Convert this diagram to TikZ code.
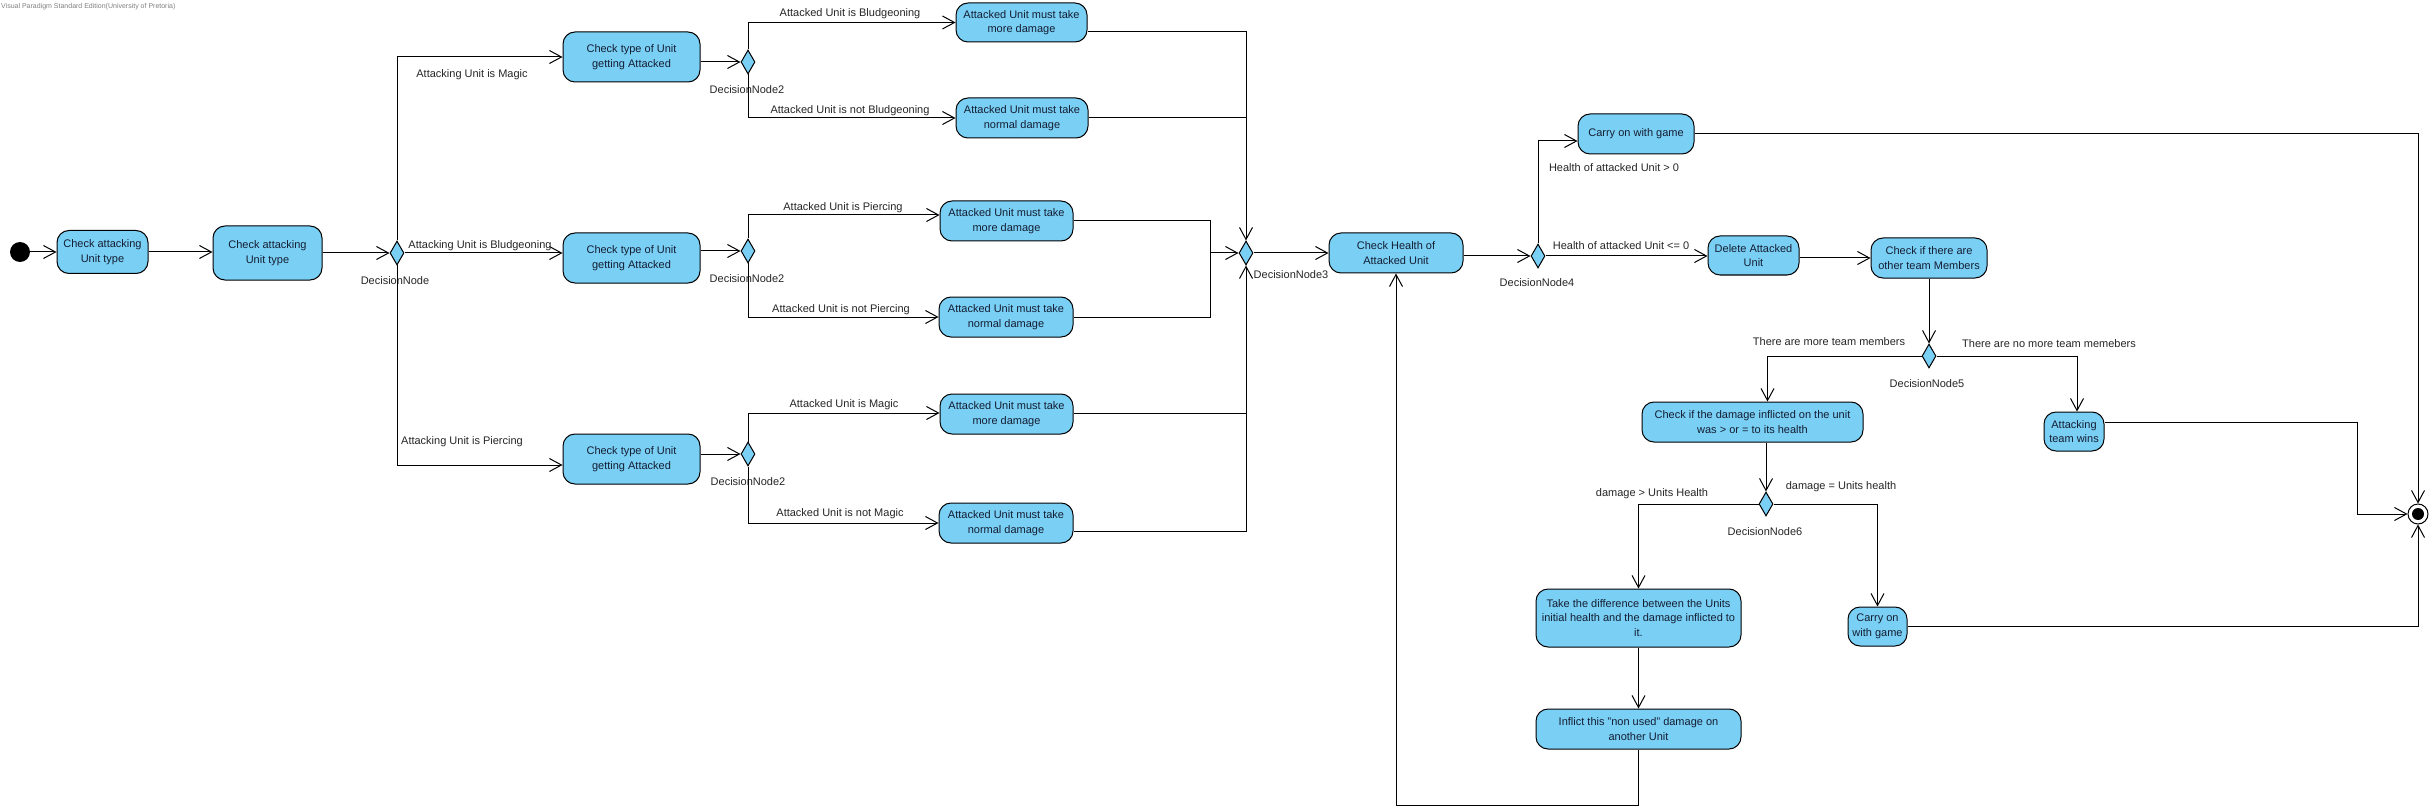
\documentclass[tikz,border=0pt]{standalone}
\usepackage{fontspec}
\setmainfont{Liberation Sans}
\usetikzlibrary{arrows.meta,shapes.geometric,calc}
\definecolor{actfill}{RGB}{122,207,245}
\definecolor{acttext}{RGB}{20,30,50}
\begin{document}
\begin{tikzpicture}[x=1pt,y=-1pt,
  act/.style={draw=black, fill=actfill, rounded corners=12pt, line width=1pt, align=center,
    font=\fontsize{11}{14.5}\selectfont, text=acttext, inner sep=0pt},
  dec/.style={draw=black, fill=actfill, diamond, inner sep=0pt, minimum width=14pt,
    minimum height=24pt, line width=1pt},
  lbl/.style={font=\fontsize{11}{14}\selectfont, inner sep=0pt, text=black!85},
  flow/.style={line width=1pt, -{Straight Barb[length=12pt,width=13pt]}},
  plain/.style={line width=1pt},
]
\useasboundingbox[fill=white] (0,0) rectangle (2432,810);
\node[anchor=north west, font=\fontsize{7}{8}\selectfont, text=gray, inner sep=0pt] (wm) at (1,3) {Visual Paradigm Standard Edition(University of Pretoria)};

% start
\node[circle, fill=black, minimum size=20pt, inner sep=0pt] (init) at (20,252) {};
\node[act, minimum width=91pt, minimum height=43pt] (A1) at (102.5,252) {Check attacking\\Unit type};
\node[act, minimum width=109pt, minimum height=54pt] (A2) at (267.5,253) {Check attacking\\Unit type};
\node[dec] (D1) at (397,253) {};
\node[lbl] (nD1) at (395,281) {DecisionNode};

% second column
\node[act, minimum width=137pt, minimum height=50pt] (B1) at (631.5,57) {Check type of Unit\\getting Attacked};
\node[act, minimum width=137pt, minimum height=50pt] (B2) at (631.5,258) {Check type of Unit\\getting Attacked};
\node[act, minimum width=137pt, minimum height=50pt] (B3) at (631.5,459) {Check type of Unit\\getting Attacked};
\node[dec] (D2a) at (748,62) {};
\node[dec] (D2b) at (748,251) {};
\node[dec] (D2c) at (748,454) {};
\node[lbl] (nD2a) at (747,90) {DecisionNode2};
\node[lbl] (nD2b) at (747,279) {DecisionNode2};
\node[lbl] (nD2c) at (748,482) {DecisionNode2};

% third column
\node[act, minimum width=131pt, minimum height=39pt] (C1) at (1021.5,22.5) {Attacked Unit must take\\more damage};
\node[act, minimum width=132pt, minimum height=40pt] (C2) at (1022,118) {Attacked Unit must take\\normal damage};
\node[act, minimum width=133pt, minimum height=40pt] (C3) at (1006.5,221) {Attacked Unit must take\\more damage};
\node[act, minimum width=134pt, minimum height=40pt] (C4) at (1006,317) {Attacked Unit must take\\normal damage};
\node[act, minimum width=133pt, minimum height=40pt] (C5) at (1006.5,414) {Attacked Unit must take\\more damage};
\node[act, minimum width=134pt, minimum height=40pt] (C6) at (1006,523) {Attacked Unit must take\\normal damage};
\node[dec] (D3) at (1246,253) {};
\node[lbl] (nD3) at (1291,275) {DecisionNode3};
\coordinate (J) at (1210,253);

% right part
\node[act, minimum width=134pt, minimum height=40pt] (E1) at (1396,253) {Check Health of\\Attacked Unit};
\node[dec] (D4) at (1538,256) {};
\node[lbl] (nD4) at (1537,283) {DecisionNode4};
\node[act, minimum width=116pt, minimum height=40pt] (F1) at (1636,134) {Carry on with game};
\node[act, minimum width=91pt, minimum height=39pt] (G1) at (1753.5,255.5) {Delete Attacked\\Unit};
\node[act, minimum width=116pt, minimum height=40pt] (G2) at (1929,258) {Check if there are\\other team Members};
\node[dec] (D5) at (1929,356) {};
\node[lbl] (nD5) at (1927,384) {DecisionNode5};
\node[act, minimum width=221pt, minimum height=40pt] (H1) at (1752.5,422) {Check if the damage inflicted on the unit\\was > or = to its health};
\node[act, minimum width=60pt, minimum height=39pt] (H2) at (2074,431.5) {Attacking\\team wins};
\node[dec] (D6) at (1766,504) {};
\node[lbl] (nD6) at (1765,532) {DecisionNode6};
\node[act, minimum width=205pt, minimum height=58pt] (I1) at (1638.5,618) {Take the difference between the Units\\initial health and the damage inflicted to\\it.};
\node[act, minimum width=59pt, minimum height=39pt] (I2) at (1877.5,626.5) {Carry on\\with game};
\node[act, minimum width=205pt, minimum height=40pt] (I3) at (1638.5,729) {Inflict this "non used" damage on\\another Unit};
\node[circle, draw=black, fill=white, line width=1pt, minimum size=20pt, inner sep=0pt] (fin) at (2418,514) {};
\node[circle, fill=black, minimum size=12pt, inner sep=0pt] (finin) at (fin) {};
\coordinate (K) at (2357,514);

% edges left
\draw[flow] (init) -- (A1);
\draw[flow] (A1.east) -- (A1.east -| A2.west);
\draw[flow] (A2.east) -- (D1.west);
\draw[flow] (D1.north) |- (B1.west);
\draw[flow] (D1.east) -- (D1.east -| B2.west);
\draw[flow] (D1.south) |- ($(B3.west)+(0,6)$);
\draw[flow] (B1.east |- D2a.west) -- (D2a.west);
\draw[flow] (D2a.north) |- (C1.west);
\draw[flow] (D2a.south) |- (C2.west);
\draw[flow] (B2.east |- D2b.west) -- (D2b.west);
\draw[flow] (D2b.north) |- ($(C3.west)+(0,-6)$);
\draw[flow] (D2b.south) |- (C4.west);
\draw[flow] (B3.east |- D2c.west) -- (D2c.west);
\draw[flow] (D2c.north) |- ($(C5.west)+(0,-1)$);
\draw[flow] (D2c.south) |- (C6.west);
\draw[flow] ($(C1.east)+(0,9)$) -| (D3.north);
\draw[plain] (C2.east) -- (C2.east -| D3.north);
\draw[plain] ($(C5.east)+(0,-1)$) -- ($(C5.east -| D3.south)+(0,-1)$);
\draw[flow] ($(C6.east)+(0,8)$) -| (D3.south);
\draw[plain] (C3.east) -| (J);
\draw[plain] (C4.east) -| (J);
\draw[flow] (J) -- (D3.west);

% edges right
\draw[flow] (D3.east) -- (E1.west);
\draw[flow] (E1.east |- D4.west) -- (D4.west);
\draw[flow] (D4.north) |- ($(F1.west)+(0,7)$);
\draw[flow] (D4.east) -- (D4.east -| G1.west);
\draw[flow] (G1.east |- G2.west) -- (G2.west);
\draw[flow] (G2.south) -- (D5.north);
\draw[flow] (D5.west) -| ($(H1.north)+(15,0)$);
\draw[flow] (D5.east) -| ($(H2.north)+(3,0)$);
\draw[flow] (H1.south -| D6.north) -- (D6.north);
\draw[flow] (D6.west) -| (I1.north);
\draw[flow] (D6.east) -| (I2.north);
\draw[flow] (I1.south) -- (I3.north);
\draw[flow] (I3.south) -- ++(0,56) -| (E1.south);
\draw[flow] (F1.east) -| (fin.north);
\draw[flow] (H2.east |- 0,422) -| (K) -- (fin.west);
\draw[flow] (I2.east) -| (fin.south);

% labels
\node[lbl] (l1) at (472,75) {Attacking Unit is Magic};
\node[lbl] (l2) at (480,246) {Attacking Unit is Bludgeoning};
\node[lbl] (l3) at (462,442) {Attacking Unit is Piercing};
\node[lbl] (l4) at (850,14) {Attacked Unit is Bludgeoning};
\node[lbl] (l5) at (850,111) {Attacked Unit is not Bludgeoning};
\node[lbl] (l6) at (843,208) {Attacked Unit is Piercing};
\node[lbl] (l7) at (841,310) {Attacked Unit is not Piercing};
\node[lbl] (l8) at (844,405) {Attacked Unit is Magic};
\node[lbl] (l9) at (840,514) {Attacked Unit is not Magic};
\node[lbl] (l10) at (1614,168) {Health of attacked Unit > 0};
\node[lbl] (l11) at (1621,246) {Health of attacked Unit <= 0};
\node[lbl] (l12) at (1829,342) {There are more team members};
\node[lbl] (l13) at (2049,344) {There are no more team memebers};
\node[lbl] (l14) at (1652,494) {damage > Units Health};
\node[lbl] (l15) at (1841,487) {damage = Units health};
\end{tikzpicture}
\end{document}
